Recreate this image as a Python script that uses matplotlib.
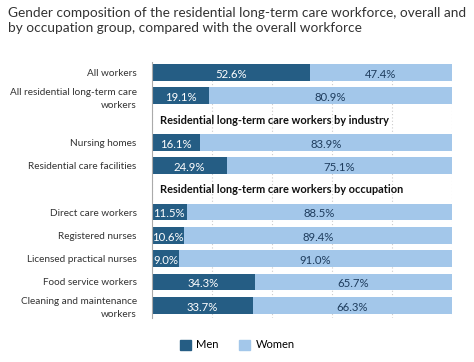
import matplotlib
matplotlib.use("Agg")
import matplotlib.pyplot as plt

plt.rcParams['font.family'] = ['Lato', 'DejaVu Sans']

categories = ["All workers", "All residential long-term care\nworkers", None,
              "Nursing homes", "Residential care facilities", None,
              "Direct care workers", "Registered nurses", "Licensed practical nurses",
              "Food service workers", "Cleaning and maintenance\nworkers"]
men = [52.6, 19.1, None, 16.1, 24.9, None, 11.5, 10.6, 9.0, 34.3, 33.7]
women = [47.4, 80.9, None, 83.9, 75.1, None, 88.5, 89.4, 91.0, 65.7, 66.3]
headers = {2: "Residential long-term care workers by industry",
           5: "Residential long-term care workers by occupation"}
title = "Gender composition of the residential long-term care workforce, overall and\nby occupation group, compared with the overall workforce"

c_men = "#255d84"
c_women = "#a3c7ea"

fig = plt.figure(figsize=(4.74, 3.62), dpi=100)
ax = fig.add_axes([152/474, 1-318/362, 300/474, 256/362])

bh = 0.72
for i, (m, w) in enumerate(zip(men, women)):
    if m is None:
        continue
    ax.barh(i, m, height=bh, color=c_men, left=0)
    ax.barh(i, w, height=bh, color=c_women, left=m)
    ax.text(m/2, i + 0.08, f"{m:.1f}%", ha="center", va="center", color="white", fontsize=8.2)
    ax.text(m + w/2, i + 0.08, f"{w:.1f}%", ha="center", va="center", color="#1f3d5e", fontsize=8.2)

for i, h in headers.items():
    ax.text(2.6, i + 0.05, h, ha="left", va="center", fontsize=7.9, fontweight="bold", color="#111111")

ax.set_ylim(10.55, -0.45)
ax.set_xlim(0, 100)
ax.set_yticks([i for i, c in enumerate(categories) if c is not None])
ax.set_yticklabels([c for c in categories if c is not None], fontsize=7.2, color="#333333",
                   linespacing=1.55)
ax.tick_params(axis="y", length=0, pad=11)
ax.set_xticks([0, 20, 40, 60, 80, 100])
ax.tick_params(axis="x", length=0, labelbottom=False)
ax.grid(axis="x", color="#cccccc", linestyle=(0, (1, 2)), linewidth=0.8)
ax.set_axisbelow(True)
for s in ["top", "right", "bottom"]:
    ax.spines[s].set_visible(False)
ax.spines["left"].set_color("#aaaaaa")
ax.spines["left"].set_linewidth(0.8)

fig.text(8/474, 1-7/362, title, ha="left", va="top", fontsize=9.8, color="#333333", linespacing=1.25)

from matplotlib.patches import Patch
handles = [Patch(color=c_men, label="Men"), Patch(color=c_women, label="Women")]
fig.legend(handles=handles, loc="center", bbox_to_anchor=(237/474, 1-345/362), ncol=2,
           frameon=False, fontsize=8, handlelength=1.0, handleheight=1.0, columnspacing=1.8,
           handletextpad=0.5)

fig.savefig("out.png", dpi=100)
